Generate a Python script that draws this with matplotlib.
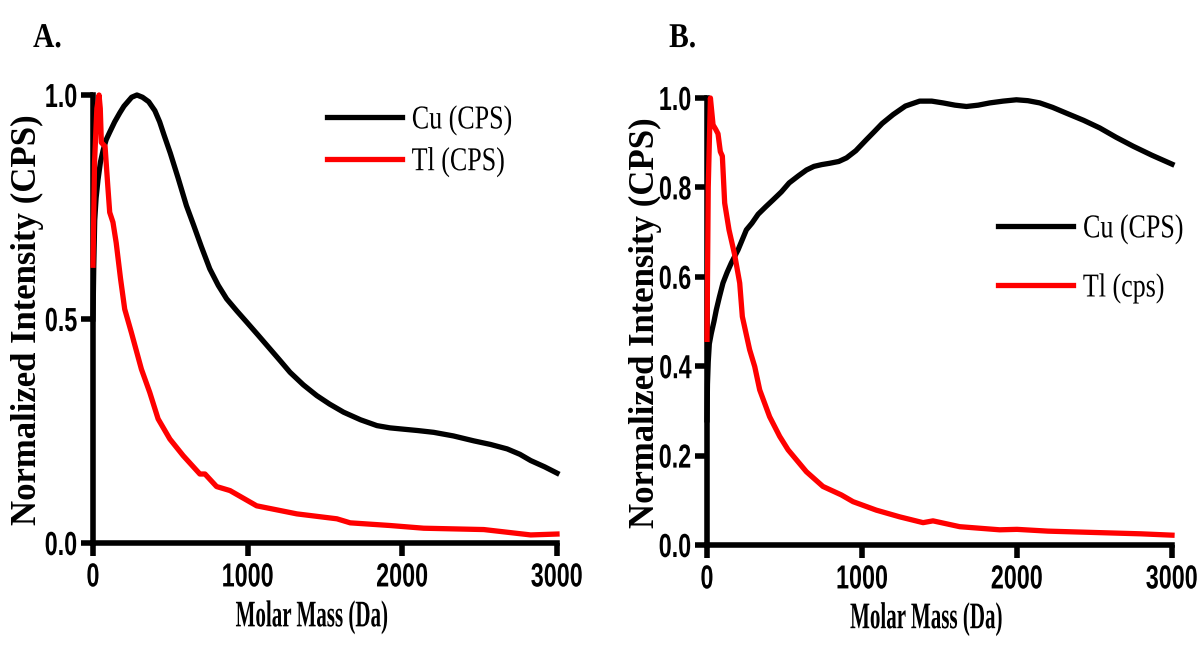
import matplotlib
matplotlib.use("Agg")
import matplotlib.pyplot as plt
from matplotlib.patheffects import AbstractPathEffect
from matplotlib.transforms import Affine2D

# panel A
cu_a_mass = [0, 5, 11, 20, 32, 48, 65, 85, 108, 140, 173, 200, 250, 284, 320, 360, 400, 431, 460, 500, 550,
             604, 650, 700, 755, 810, 864, 930, 994, 1070, 1145, 1210, 1274, 1360, 1447, 1530, 1620, 1730,
             1836, 1920, 2009, 2100, 2203, 2330, 2462, 2570, 2678, 2760, 2830, 2920, 3000]
cu_a = [0.5, 0.62, 0.72, 0.77, 0.81, 0.85, 0.876, 0.9, 0.917, 0.94, 0.96, 0.975, 0.995, 1.0, 0.995, 0.985,
        0.965, 0.94, 0.91, 0.87, 0.815, 0.753, 0.71, 0.662, 0.612, 0.575, 0.545, 0.518, 0.493, 0.463, 0.433,
        0.407, 0.381, 0.353, 0.329, 0.31, 0.292, 0.275, 0.262, 0.257, 0.254, 0.251, 0.247, 0.239, 0.228,
        0.22, 0.21, 0.198, 0.184, 0.17, 0.156]
tl_a_mass = [0, 10, 25, 39, 47, 54, 78, 95, 108, 129, 150, 178, 205, 248, 313, 367, 421, 497, 583, 691, 724,
             799, 886, 1058, 1318, 1577, 1663, 1922, 2138, 2527, 2830, 3000]
tl_a = [0.62, 0.85, 0.97, 1.0, 0.97, 0.894, 0.885, 0.80, 0.738, 0.716, 0.67, 0.59, 0.522, 0.47, 0.388, 0.336,
        0.277, 0.232, 0.195, 0.154, 0.154, 0.126, 0.117, 0.083, 0.065, 0.054, 0.045, 0.039, 0.033, 0.03, 0.018, 0.02]

# panel B
cu_b_mass = [0, 3, 8, 15, 28, 45, 60, 80, 103, 130, 157, 200, 254, 290, 330, 380, 426, 480, 530, 590, 642,
             690, 740, 792, 850, 900, 960, 1029, 1080, 1130, 1201, 1280, 1372, 1450, 1523, 1600, 1674, 1750,
             1824, 1910, 1996, 2070, 2147, 2230, 2319, 2430, 2534, 2640, 2750, 2870, 3000]
cu_b = [0.28, 0.36, 0.41, 0.45, 0.474, 0.5, 0.526, 0.555, 0.586, 0.61, 0.631, 0.66, 0.705, 0.72, 0.74, 0.757,
        0.772, 0.79, 0.81, 0.826, 0.839, 0.847, 0.851, 0.854, 0.858, 0.866, 0.882, 0.907, 0.925, 0.943, 0.963,
        0.982, 0.993, 0.993, 0.989, 0.984, 0.981, 0.984, 0.989, 0.993, 0.996, 0.994, 0.989, 0.979, 0.966,
        0.95, 0.933, 0.912, 0.892, 0.872, 0.852]
tl_b_mass = [0, 8, 22, 39, 56, 71, 86, 99, 114, 142, 178, 211, 228, 275, 308, 340, 404, 469, 523, 641, 748,
             867, 942, 1092, 1243, 1394, 1458, 1630, 1888, 2000, 2200, 2500, 2800, 3000]
tl_b = [0.46, 0.8, 1.0, 0.94, 0.93, 0.92, 0.88, 0.87, 0.765, 0.705, 0.65, 0.586, 0.511, 0.437, 0.399, 0.347,
        0.287, 0.243, 0.213, 0.164, 0.131, 0.112, 0.097, 0.078, 0.063, 0.05, 0.054, 0.041, 0.034, 0.035,
        0.031, 0.028, 0.025, 0.022]

x_ticks = [0, 1000, 2000, 3000]
y_ticks_a = [0.0, 0.5, 1.0]
y_ticks_b = [0.0, 0.2, 0.4, 0.6, 0.8, 1.0]


class Squeeze(AbstractPathEffect):
    # text in the figure is horizontally condensed
    def __init__(self, sx, anchor="center"):
        super().__init__()
        self.sx = sx
        self.anchor = anchor

    def draw_path(self, renderer, gc, tpath, affine, rgbFace=None):
        ext = affine.transform_path(tpath).get_extents()
        x0 = {"left": ext.x0, "center": (ext.x0 + ext.x1) / 2, "right": ext.x1}[self.anchor]
        sq = Affine2D().translate(-x0, 0).scale(self.sx, 1).translate(x0, 0)
        renderer.draw_path(gc, tpath, affine + sq, rgbFace)


serif = "Liberation Serif"
sans = "Liberation Sans"

fig = plt.figure(figsize=(11.99, 6.58), dpi=100)
ax_a = fig.add_axes([93 / 1199, 1 - 543 / 658, 464 / 1199, 448 / 658])
ax_b = fig.add_axes([707 / 1199, 1 - 545 / 658, 465 / 1199, 447 / 658])


def style(ax, yticks, yfmt):
    for s in ["top", "right"]:
        ax.spines[s].set_visible(False)
    for s in ["left", "bottom"]:
        ax.spines[s].set_linewidth(4)
    ax.set_xlim(0, 3000)
    ax.set_ylim(0, 1.0)
    ax.set_xticks(x_ticks)
    ax.set_yticks(yticks)
    ax.set_yticklabels([yfmt.format(v) for v in yticks])
    ax.tick_params(length=9, width=4, labelsize=24)
    ax.tick_params(axis="x", pad=5)
    ax.tick_params(axis="y", pad=2)
    for lab in ax.get_xticklabels():
        lab.set_fontfamily(sans)
        lab.set_fontweight("bold")
        lab.set_path_effects([Squeeze(0.7, "center")])
    for lab in ax.get_yticklabels():
        lab.set_fontfamily(sans)
        lab.set_fontweight("bold")
        lab.set_path_effects([Squeeze(0.7, "right")])
    xl = ax.set_xlabel("Molar Mass (Da)", fontfamily=serif, fontweight="bold", fontsize=27)
    xl.set_path_effects([Squeeze(0.56, "center")])
    ax.xaxis.set_label_coords(0.472, -0.165)
    xl.set_va("center")
    yl = ax.set_ylabel("Normalized Intensity (CPS)", fontfamily=serif, fontweight="bold", fontsize=25)
    yl.set_va("center")


for ax, cm, c, tm, t, names, yt, fmt, anchor, spacing in [
    (ax_a, cu_a_mass, cu_a, tl_a_mass, tl_a, ["Cu (CPS)", "Tl (CPS)"], y_ticks_a, "{:.1f}", (0.504, 0.978), 0.33),
    (ax_b, cu_b_mass, cu_b, tl_b_mass, tl_b, ["Cu (CPS)", "Tl (cps)"], y_ticks_b, "{:.1f}", (0.626, 0.741), 0.85),
]:
    ax.plot(cm, c, color="black", lw=3.8, label=names[0], clip_on=False, zorder=3)
    ax.plot(tm, t, color="#ff0000", lw=3.8, label=names[1], clip_on=False, zorder=3)
    style(ax, yt, fmt)
    leg = ax.legend(loc="upper left", bbox_to_anchor=anchor, frameon=False, borderpad=0, borderaxespad=0,
                    handlelength=2.24, handletextpad=0.3, labelspacing=spacing,
                    prop={"family": serif, "size": 24})
    for txt in leg.get_texts():
        txt.set_path_effects([Squeeze(0.78, "left")])

ax_a.yaxis.set_label_coords(-0.142, 0.498)
ax_b.yaxis.set_label_coords(-0.133, 0.498)

for x, s in [(33, "A."), (669, "B.")]:
    t = fig.text(x / 1199, 1 - 47 / 658, s, fontfamily=serif, fontweight="bold", fontsize=25, va="baseline")
    t.set_path_effects([Squeeze(0.85, "left")])

fig.savefig("out.png", dpi=100)
